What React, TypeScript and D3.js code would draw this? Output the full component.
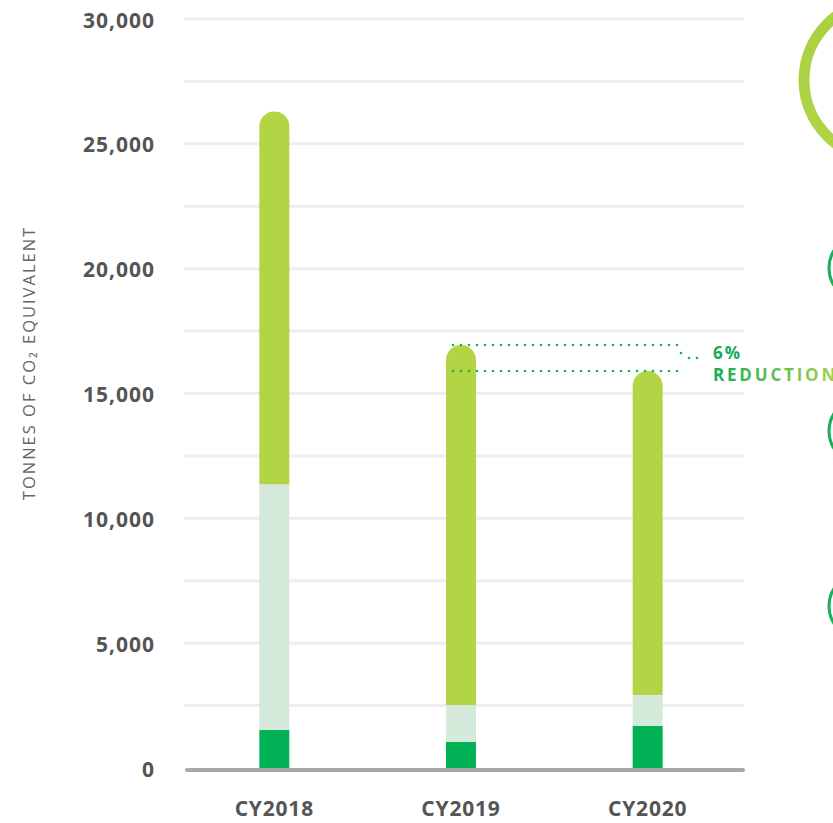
import React from "react";
import * as d3 from "d3";

const categories = ["CY2018", "CY2019", "CY2020"];
const scope1 = [1530, 1050, 1690];
const scope2 = [9840, 1470, 1230];
const scope3 = [14930, 14420, 12980];
const yTicks = [0, 5000, 10000, 15000, 20000, 25000, 30000];
const gridValues = d3.range(2500, 30001, 2500);
const reductionLabel = ["6%", "REDUCTION"];
const axisTitle = "TONNES OF CO\u2082 EQUIVALENT";

const W = 833;
const H = 823;
const FONT = "'Open Sans', 'Noto Sans', sans-serif";
const C_DARK = "#00b156";
const C_LIGHT = "#d5eadb";
const C_LIME = "#b3d445";
const DOT = "#13b35c";

export default function App() {
  const x = d3.scaleBand<string>().domain(categories).range([181, 741]).padding(0);
  const y = d3.scaleLinear().domain([0, 30000]).range([768, 19]);
  const barW = 30;

  const rows = categories.map((c, i) => ({ cat: c, s1: scope1[i], s2: scope2[i], s3: scope3[i] }));
  const stack = d3.stack<any>().keys(["s1", "s2", "s3"]);
  const series = stack(rows);
  const colors = [C_DARK, C_LIGHT, C_LIME];
  const totals = rows.map((r) => r.s1 + r.s2 + r.s3);
  const fmt = d3.format(",");
  const cx = (c: string) => (x(c) as number) + x.bandwidth() / 2;

  const yTop19 = y(totals[1]);
  const yTop20 = y(totals[2]);
  const annX0 = cx(categories[1]) - 8;
  const annX1 = 681;
  const midY = (yTop19 + yTop20) / 2;

  const roundedTop = (x0: number, y0: number, y1: number, w: number) => {
    const r = w / 2;
    const p = d3.path();
    p.moveTo(x0, y1);
    p.lineTo(x0, y0 + r);
    p.arc(x0 + r, y0 + r, r, Math.PI, 0);
    p.lineTo(x0 + w, y1);
    p.closePath();
    return p.toString();
  };

  return (
    <svg width={W} height={H} style={{ position: "absolute", left: 0, top: 0, background: "#fff" }}>
      <defs>
        <linearGradient id="redGrad" x1="0" x2="1" y1="0" y2="0">
          <stop offset="0" stopColor="#12ad55" />
          <stop offset="1" stopColor="#a8d24a" />
        </linearGradient>
        <linearGradient id="ringGrad" x1="0" x2="1" y1="0" y2="1">
          <stop offset="0" stopColor="#a9d042" />
          <stop offset="1" stopColor="#b8d84a" />
        </linearGradient>
      </defs>

      {gridValues.map((v) => (
        <line key={v} x1={184} x2={744} y1={y(v)} y2={y(v)} stroke="#eeeeee" strokeWidth={3} />
      ))}

      {yTicks.map((v) => (
        <text
          key={v}
          x={155}
          y={y(v) + 1}
          dy="0.36em"
          textAnchor="end"
          fontFamily={FONT}
          fontWeight={700}
          fontSize={21}
          letterSpacing={1}
          fill="#555555"
        >
          {fmt(v)}
        </text>
      ))}

      <text
        transform={`translate(35, 363) rotate(-90)`}
        textAnchor="middle"
        fontFamily={FONT}
        fontSize={16.5}
        letterSpacing={2}
        fill="#666666"
      >
        {axisTitle}
      </text>

      {series.map((s, si) =>
        s.map((d, i) => {
          const c = categories[i];
          const x0 = cx(c) - barW / 2;
          const yT = y(d[1]);
          const yB = y(d[0]);
          if (si === series.length - 1) {
            return <path key={`${si}-${i}`} d={roundedTop(x0, yT, yB, barW)} fill={colors[si]} />;
          }
          return <rect key={`${si}-${i}`} x={x0} y={yT} width={barW} height={yB - yT} fill={colors[si]} />;
        })
      )}

      <line x1={187} x2={743} y1={770} y2={770} stroke="#a8a8ac" strokeWidth={4} strokeLinecap="round" />

      {categories.map((c) => (
        <text
          key={c}
          x={cx(c)}
          y={816}
          textAnchor="middle"
          fontFamily={FONT}
          fontWeight={700}
          fontSize={21}
          letterSpacing={0.8}
          fill="#555555"
        >
          {c}
        </text>
      ))}

      <g stroke={DOT} strokeWidth={2.6} strokeLinecap="round" strokeDasharray="0 8" fill="none">
        <line x1={annX0} x2={annX1} y1={yTop19} y2={yTop19} />
        <line x1={annX0} x2={annX1} y1={yTop20} y2={yTop20} />
        <line x1={annX1} x2={annX1} y1={midY - 5} y2={midY + 5} strokeDasharray="0 10" />
        <line x1={annX1 + 8} x2={annX1 + 20} y1={midY} y2={midY} />
      </g>
      <text x={713} y={359} fontFamily={FONT} fontWeight={700} fontSize={17} letterSpacing={2} fill="#12ad55">
        {reductionLabel[0]}
      </text>
      <text x={713} y={381} fontFamily={FONT} fontWeight={700} fontSize={17} letterSpacing={2.8} fill="url(#redGrad)">
        {reductionLabel[1]}
      </text>

      <circle cx={883} cy={80} r={79} fill="none" stroke="url(#ringGrad)" strokeWidth={11} />
      <circle cx={862} cy={268} r={33} fill="none" stroke="#14b05a" strokeWidth={3} />
      <circle cx={862} cy={431} r={33} fill="none" stroke="#14b05a" strokeWidth={3} />
      <circle cx={862} cy={606} r={33} fill="none" stroke="#14b05a" strokeWidth={3} />
      <circle cx={839} cy={728} r={6} fill={C_DARK} />
      <circle cx={839} cy={763} r={6} fill={C_LIGHT} />
      <circle cx={839} cy={800} r={6} fill={C_LIME} />
    </svg>
  );
}
